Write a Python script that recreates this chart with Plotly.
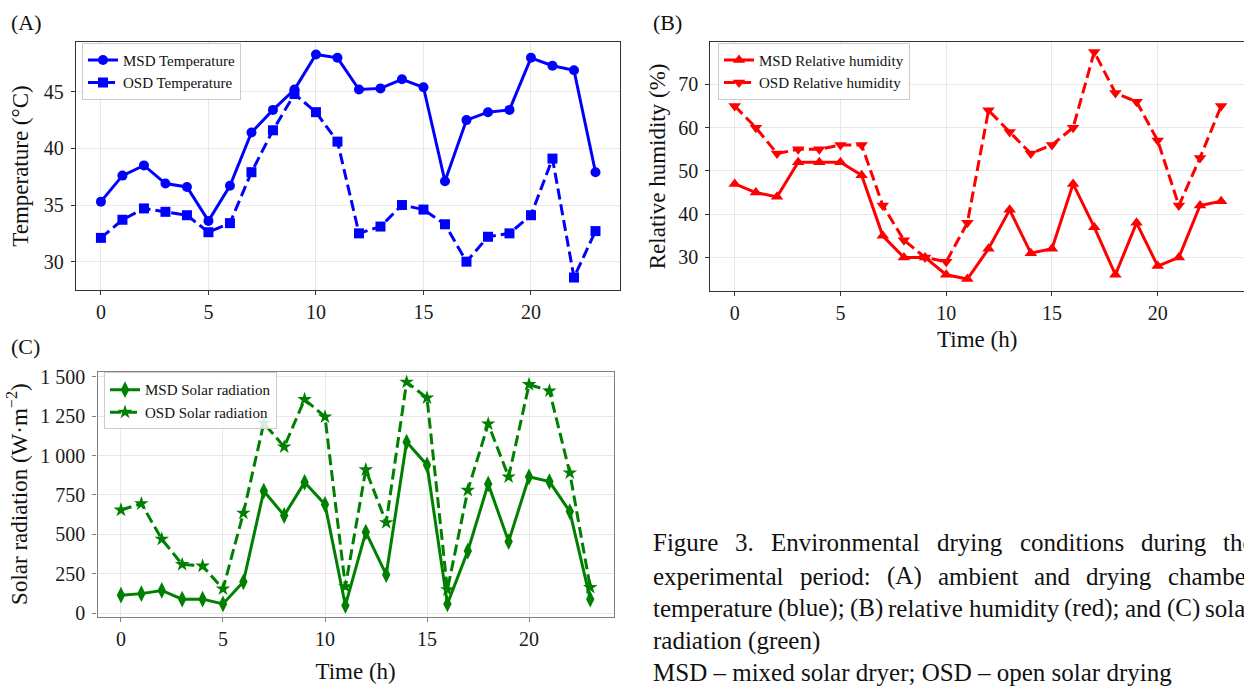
import plotly.graph_objects as go

W, H = 1244, 687

# ---------------- data ----------------
hours = list(range(24))
msd_temp = [35.3, 37.6, 38.5, 36.9, 36.6, 33.6, 36.7, 41.4, 43.4, 45.2, 48.3, 48.0,
            45.2, 45.3, 46.1, 45.4, 37.1, 42.5, 43.2, 43.4, 48.0, 47.3, 46.9, 37.9]
osd_temp = [32.1, 33.7, 34.7, 34.4, 34.1, 32.6, 33.4, 37.9, 41.6, 44.8, 43.2, 40.6,
            32.5, 33.1, 35.0, 34.6, 33.3, 30.0, 32.2, 32.5, 34.1, 39.1, 28.6, 32.7]
msd_rh = [47, 45, 44, 52, 52, 52, 49, 35, 30, 30, 26, 25,
          32, 41, 31, 32, 47, 37, 26, 38, 28, 30, 42, 43]
osd_rh = [65, 60, 54, 55, 55, 56, 56, 42, 34, 30, 29, 38,
          64, 59, 54, 56, 60, 77.5, 68, 66, 57, 42, 53, 65]
msd_sr = [115, 125, 145, 90, 90, 60, 200, 775, 620, 830, 690, 50,
          515, 245, 1085, 940, 60, 395, 820, 455, 865, 835, 645, 90]
osd_sr = [655, 695, 470, 310, 300, 155, 635, 1205, 1055, 1355, 1245, 170,
          910, 575, 1465, 1365, 150, 780, 1200, 865, 1450, 1410, 890, 165]

x_ticks = [0, 5, 10, 15, 20]
temp_ticks = [30, 35, 40, 45]
rh_ticks = [30, 40, 50, 60, 70]
sr_ticks = [0, 250, 500, 750, 1000, 1250, 1500]
sr_ticktext = ["0", "250", "500", "750", "1 000", "1 250", "1 500"]

caption_justified = [
    ["Figure", "3.", "Environmental", "drying", "conditions", "during", "the"],
    ["experimental", "period:", "(A)", "ambient", "and", "drying", "chamber"],
    ["temperature", "(blue);", "(B)", "relative", "humidity", "(red);", "and", "(C)", "solar"],
]
caption_plain = ["radiation (green)", "MSD – mixed solar dryer; OSD – open solar drying"]

# ---------------- styling ----------------
FONT = "Liberation Serif, DejaVu Serif, serif"
BLUE, RED, GREEN = "#0000ff", "#ff0000", "#008000"
DASH = "11px,5px"


def px_x(p):
    return p / W


def px_y(p):
    return 1 - p / H


fig = go.Figure()

fig.add_trace(go.Scatter(x=hours, y=msd_temp, name="MSD Temperature", mode="lines+markers",
                         line=dict(color=BLUE, width=3), marker=dict(symbol="circle", size=10),
                         xaxis="x", yaxis="y", legend="legend"))
fig.add_trace(go.Scatter(x=hours, y=osd_temp, name="OSD Temperature", mode="lines+markers",
                         line=dict(color=BLUE, width=3, dash=DASH), marker=dict(symbol="square", size=10),
                         xaxis="x", yaxis="y", legend="legend"))
fig.add_trace(go.Scatter(x=hours, y=msd_rh, name="MSD Relative humidity", mode="lines+markers",
                         line=dict(color=RED, width=3), marker=dict(symbol="triangle-up", size=11),
                         xaxis="x2", yaxis="y2", legend="legend2"))
fig.add_trace(go.Scatter(x=hours, y=osd_rh, name="OSD Relative humidity", mode="lines+markers",
                         line=dict(color=RED, width=3, dash=DASH), marker=dict(symbol="triangle-down", size=11),
                         xaxis="x2", yaxis="y2", legend="legend2"))
fig.add_trace(go.Scatter(x=hours, y=msd_sr, name="MSD Solar radiation", mode="lines+markers",
                         line=dict(color=GREEN, width=3), marker=dict(symbol="diamond-tall", size=12),
                         xaxis="x3", yaxis="y3", legend="legend3"))
fig.add_trace(go.Scatter(x=hours, y=osd_sr, name="OSD Solar radiation", mode="lines+markers",
                         line=dict(color=GREEN, width=3, dash=DASH), marker=dict(symbol="star", size=11),
                         xaxis="x3", yaxis="y3", legend="legend3"))

GRID = "#e8e8e8"


def axis(domain, rng, tickvals, anchor, linecolor, mirror=True, ticktext=None, title=None,
         standoff=6, labelgap=3):
    d = dict(domain=domain, range=rng, tickvals=tickvals, anchor=anchor,
             showline=True, linecolor=linecolor, linewidth=1.3, mirror=mirror,
             ticks="outside", ticklen=4, tickwidth=1.2, tickcolor=linecolor,
             showgrid=True, gridcolor=GRID, gridwidth=1, zeroline=False,
             tickfont=dict(family=FONT, size=20, color="#1a1a1a"), ticklabelstandoff=labelgap)
    if ticktext is not None:
        d["ticktext"] = ticktext
    if title is not None:
        d["title"] = dict(text=title, font=dict(family=FONT, size=23, color="#111"), standoff=standoff)
    return d


DARK = "#333333"
GRAYF = "#808080"

fig.update_layout(
    width=W, height=H, margin=dict(l=0, r=0, t=0, b=0),
    paper_bgcolor="white", plot_bgcolor="white",
    font=dict(family=FONT, color="#111"),
    showlegend=True,
    xaxis=axis([px_x(76), px_x(620)], [-1.16, 24.14], x_ticks, "y", DARK, labelgap=0),
    yaxis=axis([px_y(290), px_y(36.7)], [27.49, 49.4], temp_ticks, "x", DARK,
               title="Temperature (°C)", standoff=8),
    xaxis2=axis([px_x(710.4), 1.0], [-1.15, 24.08], x_ticks, "y2", DARK,
                title="Time (h)", standoff=7, labelgap=0),
    yaxis2=axis([px_y(290.7), px_y(36.7)], [22.3, 79.8], rh_ticks, "x2", DARK, mirror=False,
                title="Relative humidity (%)", standoff=6),
    xaxis3=axis([px_x(97.5), px_x(613.7)], [-1.15, 24.15], x_ticks, "y3", GRAYF,
                title="Time (h)", standoff=14, labelgap=0),
    yaxis3=axis([px_y(623.3), px_y(373.3)], [-20.5, 1531], sr_ticks, "x3", GRAYF,
                ticktext=sr_ticktext, title="Solar radiation (W·m<sup>−2</sup>)", standoff=6),
)

leg_common = dict(bgcolor="rgba(255,255,255,0.85)", bordercolor="#cccccc", borderwidth=1,
                  font=dict(family=FONT, size=15, color="#111"), xanchor="left", yanchor="top",
                  tracegroupgap=0, itemwidth=30)
fig.update_layout(
    legend=dict(x=px_x(82), y=px_y(37.5), **leg_common),
    legend2=dict(x=px_x(718), y=px_y(37.5), **leg_common),
    legend3=dict(x=px_x(104), y=px_y(374), **leg_common),
)

annotations = []
for txt, x, y in [("(A)", 9, 17), ("(B)", 651, 17), ("(C)", 9, 348)]:
    annotations.append(dict(text=txt, x=px_x(x), y=px_y(y), xref="paper", yref="paper",
                            xanchor="left", yanchor="middle", showarrow=False,
                            font=dict(family=FONT, size=22, color="#111")))

# caption (justified lines laid out word by word, Times-metric widths)
CW = {' ': 250, '.': 250, ':': 278, ';': 278, '(': 333, ')': 333, '3': 500, '–': 500,
      'A': 722, 'B': 667, 'C': 667, 'D': 722, 'E': 611, 'F': 556, 'M': 889, 'O': 722, 'S': 556, 'T': 611,
      'a': 444, 'b': 500, 'c': 444, 'd': 500, 'e': 444, 'f': 333, 'g': 500, 'h': 500, 'i': 278,
      'l': 278, 'm': 778, 'n': 500, 'o': 500, 'p': 500, 'r': 333, 's': 389, 't': 278, 'u': 500,
      'v': 500, 'x': 500, 'y': 500, 'w': 722, 'k': 500}
CAP_SIZE = 25
CAP_LEFT, CAP_RIGHT = 652, 1253
line_centers = [548, 582, 615, 648, 680]


def wwidth(word):
    return sum(CW.get(c, 500) for c in word) * CAP_SIZE / 1000.0


for li, words in enumerate(caption_justified):
    total = sum(wwidth(w) for w in words)
    gap = (CAP_RIGHT - CAP_LEFT - total) / (len(words) - 1)
    xpos = CAP_LEFT
    for w in words:
        annotations.append(dict(text=w, x=px_x(xpos), y=px_y(line_centers[li]), xref="paper", yref="paper",
                                xanchor="left", yanchor="middle", showarrow=False, borderpad=0,
                                font=dict(family=FONT, size=CAP_SIZE, color="#111")))
        xpos += wwidth(w) + gap
for k, txt in enumerate(caption_plain):
    annotations.append(dict(text=txt, x=px_x(CAP_LEFT), y=px_y(line_centers[3 + k]), xref="paper", yref="paper",
                            xanchor="left", yanchor="middle", showarrow=False, borderpad=0,
                            font=dict(family=FONT, size=CAP_SIZE, color="#111")))

fig.update_layout(annotations=annotations)

fig.write_html("out.html")
